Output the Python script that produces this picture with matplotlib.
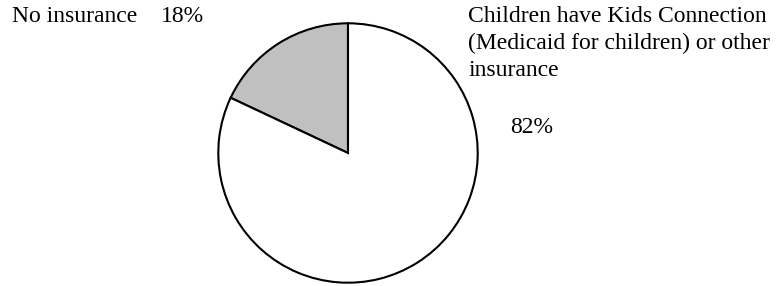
import matplotlib
matplotlib.use('Agg')
import matplotlib.pyplot as plt

# slice data
labels = ['No insurance', 'Children have Kids Connection\n(Medicaid for children) or other\ninsurance']
values = [18, 82]
colors = ['#c0c0c0', '#ffffff']

plt.rcParams['font.family'] = ['Liberation Serif', 'DejaVu Serif']

fig = plt.figure(figsize=(7.81, 2.86), dpi=100)
ax = fig.add_axes([(348 - 131) / 781, (286 - 284) / 286, 262 / 781, 262 / 286])
ax.pie(values, colors=colors, startangle=90, counterclock=True,
       wedgeprops=dict(edgecolor='black', linewidth=1.5), radius=1)
ax.set_xlim(-1.01, 1.01)
ax.set_ylim(-1.01, 1.01)
ax.set_aspect('equal')
ax.axis('off')

fs = 17
fig.text(12 / 781, 1 - 6 / 286, labels[0], fontsize=fs, va='top', ha='left')
fig.text(161 / 781, 1 - 6 / 286, f'{values[0]}%', fontsize=fs, va='top', ha='left')
fig.text(468 / 781, 1 - 6 / 286, labels[1], fontsize=fs, va='top', ha='left',
         linespacing=1.36)
fig.text(510 / 781, 1 - 117 / 286, f'{values[1]}%', fontsize=fs, va='top', ha='left')

fig.savefig('out.png', dpi=100)
